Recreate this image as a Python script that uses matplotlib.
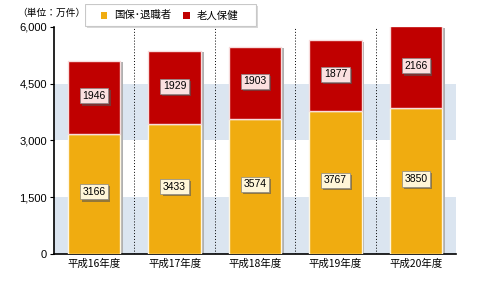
import matplotlib.pyplot as plt
import numpy as np
from matplotlib.patches import Rectangle
import matplotlib.patheffects as pe

plt.rcParams['font.family'] = ['Noto Sans CJK JP', 'DejaVu Sans']

years = ["平成16年度", "平成17年度", "平成18年度", "平成19年度", "平成20年度"]
kokuho = [3166, 3433, 3574, 3767, 3850]
roujin = [1946, 1929, 1903, 1877, 2166]
yticks = [0, 1500, 3000, 4500, 6000]
ytick_labels = ["0", "1,500", "3,000", "4,500", "6,000"]

ORANGE = "#f0ac10"
RED = "#c00000"
BAND = "#dbe5f0"

fig = plt.figure(figsize=(4.8, 2.97), dpi=100)
ax = fig.add_axes([0.1125, 0.1448, 0.8375, 0.7643])

x = np.arange(len(years))
ax.set_xlim(-0.5, len(years) - 0.5)
ax.set_ylim(0, 6000)

# alternating bands
for lo in (0, 3000):
    ax.axhspan(lo, lo + 1500, color=BAND, zorder=0, lw=0)

# dotted separators
for b in np.arange(0.5, len(years), 1.0):
    c = "#999999" if b == len(years) - 0.5 else "black"
    ax.axvline(b, color=c, ls=(0, (1, 2)), lw=0.7, zorder=1)

w = 0.65
# shadows
ax.bar(x + 0.035, np.array(kokuho) + np.array(roujin), w, bottom=-30,
       color="#b0b0b0", zorder=2, lw=0)
ax.bar(x, kokuho, w, color=ORANGE, edgecolor="#fff6e0", lw=1.0, zorder=3)
ax.bar(x, roujin, w, bottom=kokuho, color=RED, edgecolor="#f8dcdc", lw=1.0, zorder=3)


def label(xp, yp, txt, face):
    t = ax.text(xp, yp, txt, ha="center", va="center", fontsize=7.5, zorder=5,
                family=["Liberation Sans", "DejaVu Sans"],
                bbox=dict(boxstyle="square,pad=0.25", fc=face, ec="#888888", lw=0.5))
    t.get_bbox_patch().set_path_effects(
        [pe.SimplePatchShadow(offset=(1.5, -1.5), shadow_rgbFace="#555555", alpha=0.6),
         pe.Normal()])


for i in range(len(years)):
    label(x[i], kokuho[i] / 2 + 60, str(kokuho[i]), "#fff6d8")
    label(x[i], kokuho[i] + roujin[i] / 2 + 40, str(roujin[i]), "#fbe0e0")

ax.set_yticks(yticks)
ax.set_yticklabels(ytick_labels, fontsize=8, family=["Liberation Sans", "DejaVu Sans"])
ax.set_xticks(x)
ax.set_xticklabels(years, fontsize=7.5)
ax.tick_params(axis="x", length=0, pad=3)
ax.tick_params(axis="y", length=3, width=0.8, pad=2)
for s in ("top", "right"):
    ax.spines[s].set_visible(False)
ax.spines["left"].set_linewidth(1.2)
ax.spines["bottom"].set_linewidth(1.2)

fig.text(0.035, 0.955, "（単位：万件）", fontsize=7, va="center")

# legend box
lg = fig.add_axes([0.177, 0.905, 0.36, 0.082])
lg.set_xlim(0, 1)
lg.set_ylim(0, 1)
lg.axis("off")
lg.add_patch(Rectangle((0.01, 0.0), 0.99, 0.92, fc="#d8d8d8", ec="none"))
lg.add_patch(Rectangle((0.0, 0.08), 0.99, 0.92, fc="white", ec="#c8c8c8", lw=0.8))
lg.add_patch(Rectangle((0.09, 0.38), 0.04, 0.28, fc=ORANGE, ec="none"))
lg.text(0.17, 0.53, "国保･退職者", fontsize=7.5, va="center")
lg.add_patch(Rectangle((0.565, 0.38), 0.04, 0.28, fc=RED, ec="none"))
lg.text(0.645, 0.53, "老人保健", fontsize=7.5, va="center")

fig.savefig("out.png", dpi=100)
